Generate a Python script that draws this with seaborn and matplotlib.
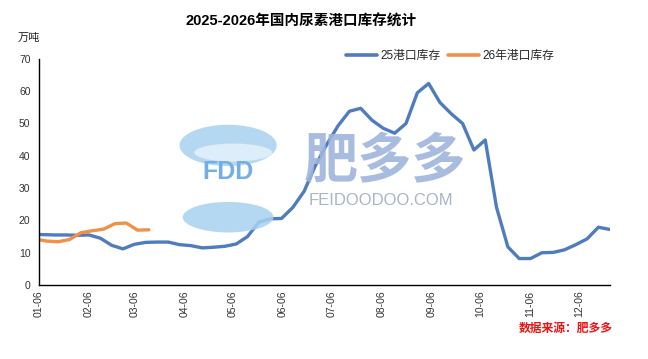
import matplotlib
matplotlib.use("Agg")
import matplotlib.pyplot as plt
import matplotlib.dates as mdates
from matplotlib.patches import Ellipse
from matplotlib.lines import Line2D
import seaborn as sns
import pandas as pd

# ---------------- data ----------------
dates_25 = ["2025-01-02", "2025-01-09", "2025-01-16", "2025-01-23", "2025-01-30",
            "2025-02-06", "2025-02-13", "2025-02-20", "2025-02-27", "2025-03-06",
            "2025-03-13", "2025-03-20", "2025-03-27", "2025-04-03", "2025-04-10",
            "2025-04-17", "2025-04-24", "2025-05-01", "2025-05-08", "2025-05-15",
            "2025-05-22", "2025-05-29", "2025-06-05", "2025-06-12", "2025-06-19",
            "2025-06-26", "2025-07-03", "2025-07-10", "2025-07-17", "2025-07-24",
            "2025-07-31", "2025-08-07", "2025-08-14", "2025-08-21", "2025-08-28",
            "2025-09-04", "2025-09-11", "2025-09-18", "2025-09-25", "2025-10-02",
            "2025-10-09", "2025-10-16", "2025-10-23", "2025-10-30", "2025-11-06",
            "2025-11-13", "2025-11-20", "2025-11-27", "2025-12-04", "2025-12-11",
            "2025-12-18", "2025-12-25"]
stock_25 = [15.7, 15.6, 15.5, 15.5, 15.4, 15.5, 14.5, 12.3, 11.2, 12.6,
            13.2, 13.3, 13.3, 12.5, 12.2, 11.5, 11.7, 12.0, 12.7, 15.0,
            19.5, 20.5, 20.6, 24.0, 29.0, 37.0, 43.5, 49.3, 53.8, 54.7,
            51.0, 48.5, 47.0, 50.0, 59.5, 62.4, 56.5, 53.0, 50.0, 41.8,
            44.9, 24.0, 11.8, 8.2, 8.2, 10.0, 10.1, 10.9, 12.5, 14.3,
            17.9, 17.2]

# 2026 data plotted on the same month-day axis
dates_26 = ["2025-01-04", "2025-01-11", "2025-01-18", "2025-01-25", "2025-02-01",
            "2025-02-08", "2025-02-15", "2025-02-22", "2025-03-01", "2025-03-08",
            "2025-03-15"]
stock_26 = [14.2, 13.6, 13.4, 14.1, 16.2, 16.8, 17.3, 19.0, 19.2, 17.0, 17.1]

label_25 = "25港口库存"
label_26 = "26年港口库存"
title = "2025-2026年国内尿素港口库存统计"
unit = "万吨"
source = "数据来源：肥多多"

# ---------------- style ----------------
sns.set_style("white")
plt.rcParams["font.family"] = ["Liberation Sans", "Noto Sans CJK SC", "DejaVu Sans"]
plt.rcParams["axes.unicode_minus"] = False

df = pd.concat([
    pd.DataFrame({"date": pd.to_datetime(dates_25), "value": stock_25, "series": label_25}),
    pd.DataFrame({"date": pd.to_datetime(dates_26), "value": stock_26, "series": label_26}),
])

fig = plt.figure(figsize=(6.48, 3.59), dpi=100)
ax = fig.add_axes([0.060, 0.206, 0.881, 0.630])

# watermark (drawn behind lines)
wm_blue = "#9fb5dc"
fig.text(0.594, 0.548, "肥多多", fontsize=39, fontweight="bold", color=wm_blue,
         ha="center", va="center", family=["Noto Sans CJK SC"], alpha=0.9, zorder=0)
fig.text(0.588, 0.462, "FEIDOODOO.COM", fontsize=12, color="#aab4c6",
         ha="center", va="top", family=["Liberation Sans"], zorder=0)
# logo: two light-blue swooshes with "FDD" between
for yc, h, w in [(0.595, 0.115, 0.150), (0.395, 0.085, 0.140)]:
    fig.patches.append(Ellipse((0.352, yc), w, h, transform=fig.transFigure,
                               facecolor="#a8d2f0", edgecolor="none", alpha=0.85, zorder=0))
fig.patches.append(Ellipse((0.360, 0.575), 0.120, 0.05, transform=fig.transFigure,
                           facecolor="white", edgecolor="none", alpha=0.55, zorder=0))
fig.text(0.352, 0.522, "FDD", fontsize=18, fontweight="bold", color="#74aee3",
         ha="center", va="center", zorder=0)

palette = {label_25: "#4f7cbf", label_26: "#f0914a"}
sns.lineplot(data=df, x="date", y="value", hue="series", palette=palette,
             linewidth=2.4, ax=ax, legend=False, sort=True)
for line in ax.lines:
    line.set_solid_joinstyle("round")
    line.set_solid_capstyle("round")

ax.set_xlim(pd.Timestamp("2025-01-06"), pd.Timestamp("2025-12-25"))
ax.set_ylim(0, 70)
ax.set_yticks(range(0, 71, 10))
ax.xaxis.set_major_locator(mdates.MonthLocator(bymonthday=6))
ax.xaxis.set_major_formatter(mdates.DateFormatter("%m-%d"))
ax.set_xlabel("")
ax.set_ylabel("")
ax.patch.set_alpha(0)

for s in ["top", "right"]:
    ax.spines[s].set_visible(False)
for s in ["left", "bottom"]:
    ax.spines[s].set_color("black")
    ax.spines[s].set_linewidth(1.0)

ax.tick_params(axis="both", direction="in", length=4, width=0.8, colors="black",
               labelsize=7.5, labelcolor="#333333")
ax.tick_params(axis="x", labelrotation=90, pad=4)
ax.tick_params(axis="y", pad=6)

# legend
handles = [Line2D([0], [0], color=palette[label_25], lw=2.6),
           Line2D([0], [0], color=palette[label_26], lw=2.6)]
fig.legend(handles, [label_25, label_26], loc="center", ncol=2,
           bbox_to_anchor=(0.695, 0.843), frameon=False,
           handlelength=2.6, handletextpad=0.35, columnspacing=0.6,
           prop={"family": ["Liberation Sans", "Noto Sans CJK SC"], "size": 8.5})

fig.text(0.465, 0.94, title, fontsize=10.5, fontweight="bold", ha="center", va="center",
         family=["Liberation Sans", "Noto Sans CJK SC"], color="black")
fig.text(0.045, 0.895, unit, fontsize=8, ha="center", va="center",
         family=["Noto Sans CJK SC"], color="#222222")
fig.text(0.945, 0.086, source, fontsize=8.5, fontweight="bold", style="italic",
         ha="right", va="center", color="#ee1111", family=["Noto Sans CJK SC"])

fig.savefig("out.png", dpi=100)
